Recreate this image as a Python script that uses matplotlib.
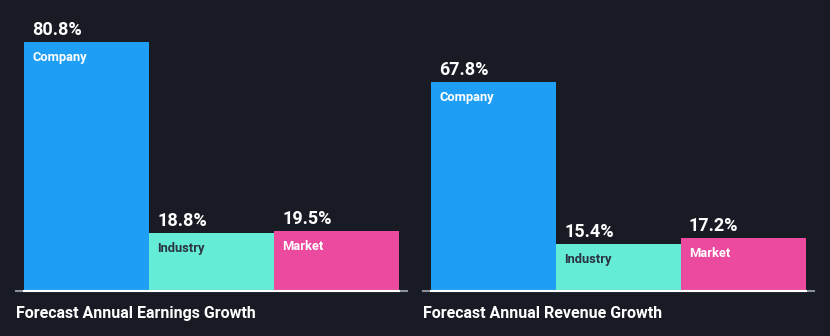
import matplotlib.pyplot as plt
from matplotlib import transforms

plt.rcParams['font.family'] = ['Roboto', 'DejaVu Sans']

# datos
categories = ["Company", "Industry", "Market"]
earnings = [80.8, 18.8, 19.5]
revenue = [67.8, 15.4, 17.2]
titles = ["Forecast Annual Earnings Growth", "Forecast Annual Revenue Growth"]

BG = "#181b24"
colors = ["#1f9ef6", "#64ecd6", "#ec4a9f"]
label_colors = ["white", "#2a3341", "white"]

W, H = 830, 336
fig = plt.figure(figsize=(W / 100, H / 100), dpi=100, facecolor=BG)

bar_px = 125
base_px = 291
scale = 3.08  # px por punto porcentual


def panel(left_px, values, title):
    ax = fig.add_axes([left_px / W, (H - base_px) / H, 391 / W, base_px / H])
    ax.set_facecolor(BG)
    x = list(range(len(values)))
    ax.bar(x, values, width=1.0, color=colors, linewidth=0)
    xmin = -0.5 - 8 / bar_px
    ax.set_xlim(xmin, xmin + 391 / bar_px)
    ax.set_ylim(0, base_px / scale)
    ax.axis("off")
    # linea base
    ax.axhline(0, color="#8a8f98", lw=1.5, clip_on=False)
    ax.plot([-0.5, 2.5], [0, 0], color="white", lw=1.5, clip_on=False)

    off = transforms.offset_copy
    for i, v in enumerate(values):
        t_up = off(ax.transData, fig=fig, x=8, y=7, units="dots")
        ax.text(i - 0.5, v, f"{v}%", transform=t_up, color="white",
                fontsize=13, fontweight="bold", ha="left", va="baseline")
        t_in = off(ax.transData, fig=fig, x=8, y=-9, units="dots")
        ax.text(i - 0.5, v, categories[i], transform=t_in, color=label_colors[i],
                fontsize=9.3, fontweight="bold", ha="left", va="top")
    fig.text((left_px) / W, (H - 318) / H, title, color="white",
             fontsize=11.5, fontweight="bold", ha="left", va="baseline")


panel(16, earnings, titles[0])
panel(423, revenue, titles[1])

fig.savefig("out.png", dpi=100, facecolor=BG)
